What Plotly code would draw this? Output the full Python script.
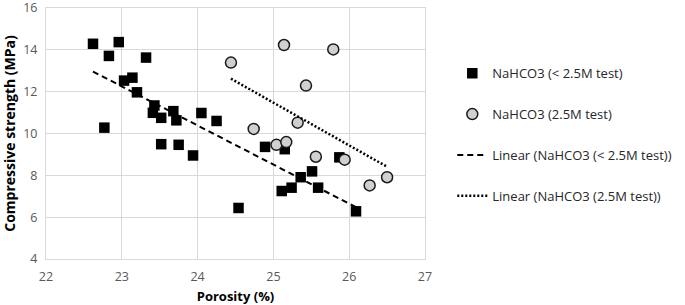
import numpy as np
import plotly.graph_objects as go

# NaHCO3 (< 2.5M test)
low_x = [22.62, 22.83, 22.96, 23.32, 23.03, 23.14, 23.20, 23.43, 23.41, 23.52,
         23.68, 23.72, 24.05, 24.25, 22.77, 23.52, 23.75, 23.94, 24.89, 25.15,
         24.54, 25.11, 25.24, 25.36, 25.51, 25.59, 25.87, 26.09]
low_y = [14.29, 13.71, 14.37, 13.63, 12.53, 12.67, 11.97, 11.34, 10.99, 10.75,
         11.07, 10.63, 10.98, 10.60, 10.28, 9.49, 9.46, 8.95, 9.36, 9.25,
         6.44, 7.25, 7.41, 7.91, 8.19, 7.41, 8.86, 6.28]

# NaHCO3 (2.5M test)
high_x = [24.44, 25.14, 25.79, 25.43, 25.32, 24.74, 25.04, 25.17, 25.56, 25.94, 26.27, 26.50]
high_y = [13.39, 14.23, 14.02, 12.29, 10.52, 10.22, 9.46, 9.59, 8.89, 8.75, 7.52, 7.91]

x_ticks = [22, 23, 24, 25, 26, 27]
y_ticks = [4, 6, 8, 10, 12, 14, 16]

def fit(xs, ys):
    a, b = np.polyfit(xs, ys, 1)
    xe = [min(xs), max(xs)]
    return xe, [a * v + b for v in xe]

lx, ly = fit(low_x, low_y)
hx, hy = fit(high_x, high_y)

FONT = "Open Sans"
fig = go.Figure()
fig.add_trace(go.Scatter(
    x=low_x, y=low_y, mode="markers", name="NaHCO3 (< 2.5M test)",
    legendgroup="a",
    marker=dict(symbol="square", size=10.5, color="black", line=dict(width=0))))
fig.add_trace(go.Scatter(
    x=high_x, y=high_y, mode="markers", name="NaHCO3 (2.5M test)",
    legendgroup="b",
    marker=dict(symbol="circle", size=11, color="#d0d0d0",
                line=dict(width=1.5, color="#1a1a1a"))))
fig.add_trace(go.Scatter(
    x=lx, y=ly, mode="lines", name="Linear (NaHCO3 (< 2.5M test))",
    legendgroup="c",
    line=dict(color="black", width=2, dash="6px,4px")))
fig.add_trace(go.Scatter(
    x=hx, y=hy, mode="lines", name="Linear (NaHCO3 (2.5M test))",
    legendgroup="d",
    line=dict(color="black", width=2.5, dash="2px,2px")))

axis_common = dict(showgrid=True, gridcolor="#d9d9d9", gridwidth=1,
                   showline=True, linecolor="#d9d9d9", linewidth=1, mirror=True,
                   zeroline=False, ticks="", automargin=False,
                   ticklabeloverflow="allow",
                   tickfont=dict(family=FONT, size=12.5, color="#595959"))
fig.update_xaxes(range=[22, 27.0001], tickvals=x_ticks, ticklabelstandoff=6,
                 title=dict(text="<b>Porosity (%)</b>", standoff=10,
                            font=dict(family=FONT, size=13, color="black")),
                 **axis_common)
fig.update_yaxes(range=[3.9999, 16.001], tickvals=y_ticks, ticklabelstandoff=5,
                 title=dict(text="<b>Compressive strength (MPa)</b>", standoff=6,
                            font=dict(family=FONT, size=14, color="black")),
                 **axis_common)

fig.update_layout(
    width=685, height=305,
    margin=dict(l=46, r=255, t=8, b=46),
    plot_bgcolor="white", paper_bgcolor="white",
    font=dict(family=FONT),
    legend=dict(x=1.072, y=0.80, xanchor="left", yanchor="top",
                traceorder="grouped", tracegroupgap=21,
                font=dict(family=FONT, size=13, color="#262626"),
                bgcolor="rgba(0,0,0,0)"),
)
fig.write_html("out.html", config={"displayModeBar": False},
               post_script="document.body.style.margin='0px';document.body.style.overflow='hidden';")
